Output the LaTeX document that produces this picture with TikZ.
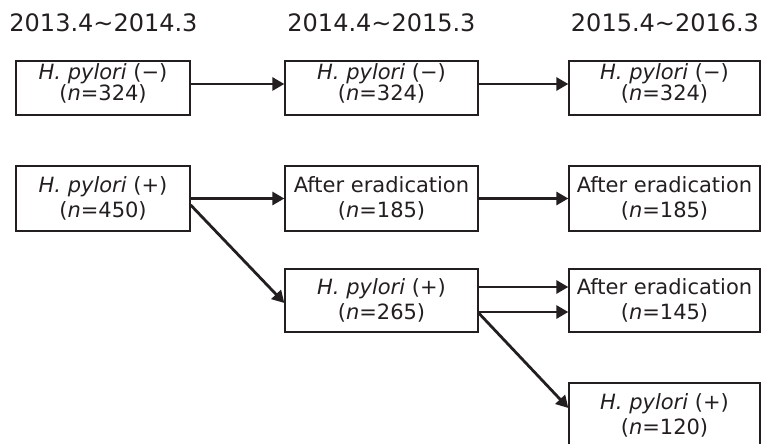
\documentclass[tikz,border=0pt]{standalone}
\usepackage{fontspec}
\setmainfont{DejaVu Sans}
\usepackage{xcolor}
\usepackage{tikz}
\usetikzlibrary{arrows.meta}
\definecolor{ink}{HTML}{231F20}

\begin{document}
\begin{tikzpicture}[x=1pt,y=-1pt]
            \tikzset{box/.style = {draw=ink, line width=1.3pt, text=ink, align=center, inner sep=0pt, minimum height=65pt, font=\fontsize{21}{25}\selectfont}}
            \tikzset{toprow/.style = {minimum height=54pt}}
            \tikzset{year/.style = {text=ink, anchor=base, inner sep=0pt, font=\fontsize{24}{28}\selectfont}}
            \tikzset{edge/.style = {draw=ink, line width=2.8pt, -{Triangle[length=12pt,width=13pt]}}}

            \useasboundingbox (0,0) rectangle (761,444);

            % years
            \node[year] (y1) at (103.5,32) {2013.4\textasciitilde 2014.3};
            \node[year] (y2) at (381.5,32) {2014.4\textasciitilde 2015.3};
            \node[year] (y3) at (665,32) {2015.4\textasciitilde 2016.3};

            % boxes
            \node[box, toprow, minimum width=174pt] (a1) at (103,88) {\textit{H. pylori} (−)\\[-4pt](\textit{n}=324)\rule[-12pt]{0pt}{1pt}};
            \node[box, toprow, minimum width=193pt] (a2) at (381.5,88) {\textit{H. pylori} (−)\\[-4pt](\textit{n}=324)\rule[-12pt]{0pt}{1pt}};
            \node[box, toprow, minimum width=191pt] (a3) at (664.5,88) {\textit{H. pylori} (−)\\[-4pt](\textit{n}=324)\rule[-12pt]{0pt}{1pt}};

            \node[box, minimum width=174pt] (b1) at (103,198.5) {\textit{H. pylori} (+)\\(\textit{n}=450)};
            \node[box, minimum width=193pt] (b2) at (381.5,198.5) {After eradication\\(\textit{n}=185)};
            \node[box, minimum width=191pt] (b3) at (664.5,198.5) {After eradication\\(\textit{n}=185)};

            \node[box, minimum height=63pt, minimum width=193pt] (c2) at (381.5,300.5) {\textit{H. pylori} (+)\\(\textit{n}=265)};
            \node[box, minimum height=63pt, minimum width=191pt] (c3) at (664.5,300.5) {After eradication\\(\textit{n}=145)};

            \node[box, minimum width=191pt] (d3) at (664.5,415.5) {\textit{H. pylori} (+)\\(\textit{n}=120)};

            % edges
            \foreach \x/\y in {a1/a2,a2/a3} {\draw[edge] ([yshift=4pt]\x.east) -- ([yshift=4pt]\y.west);}
            \foreach \x/\y in {b1/b2,b2/b3} {\draw[edge] (\x.east) -- (\y.west);}
            \draw[edge] ([yshift=-6.5pt]b1.east) -- ([yshift=-2.5pt]c2.west);
            \draw[edge] ([yshift=13.5pt]c2.east) -- ([yshift=13.5pt]c3.west);
            \draw[edge] ([yshift=-11.5pt]c2.east) -- ([yshift=-11.5pt]c3.west);
            \draw[edge] ([yshift=-12.5pt]c2.east) -- ([yshift=7.5pt]d3.west);

          \end{tikzpicture}
\end{document}
